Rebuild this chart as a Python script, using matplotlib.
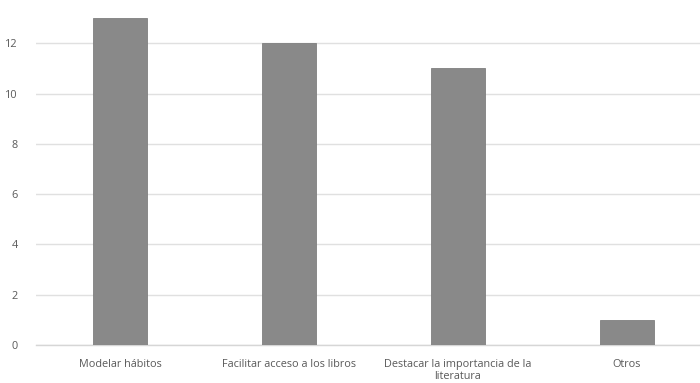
import matplotlib.pyplot as plt

categories = ['Modelar hábitos', 'Facilitar acceso a los libros',
              'Destacar la importancia de la\nliteratura', 'Otros']
values = [13, 12, 11, 1]
yticks = [0, 2, 4, 6, 8, 10, 12]

plt.rcParams['font.family'] = ['Open Sans', 'DejaVu Sans']

fig = plt.figure(figsize=(7, 3.83), dpi=100)
ax = fig.add_axes([36 / 700, 38 / 383, 675 / 700, 345 / 383])

x = range(len(categories))
ax.bar(x, values, width=0.32, color='#898989', edgecolor='#7f7f7f', linewidth=0.6, zorder=3)

ax.set_xlim(-0.5, len(categories) - 0.5)
ax.set_ylim(0, 13.72)
ax.set_yticks(yticks)
ax.set_xticks(list(x))
ax.set_xticklabels(categories, fontsize=7.8, color='#595959', linespacing=1.15)
ax.tick_params(axis='y', labelsize=7.8, colors='#595959', length=0, pad=13)
ax.tick_params(axis='x', length=0, pad=10)

ax.grid(axis='y', color='#e0e0e0', linewidth=1, zorder=0)
for side in ['top', 'right', 'left']:
    ax.spines[side].set_visible(False)
ax.spines['bottom'].set_color('#d6d6d6')
ax.spines['bottom'].set_linewidth(1)

fig.savefig('out.png', dpi=100)
